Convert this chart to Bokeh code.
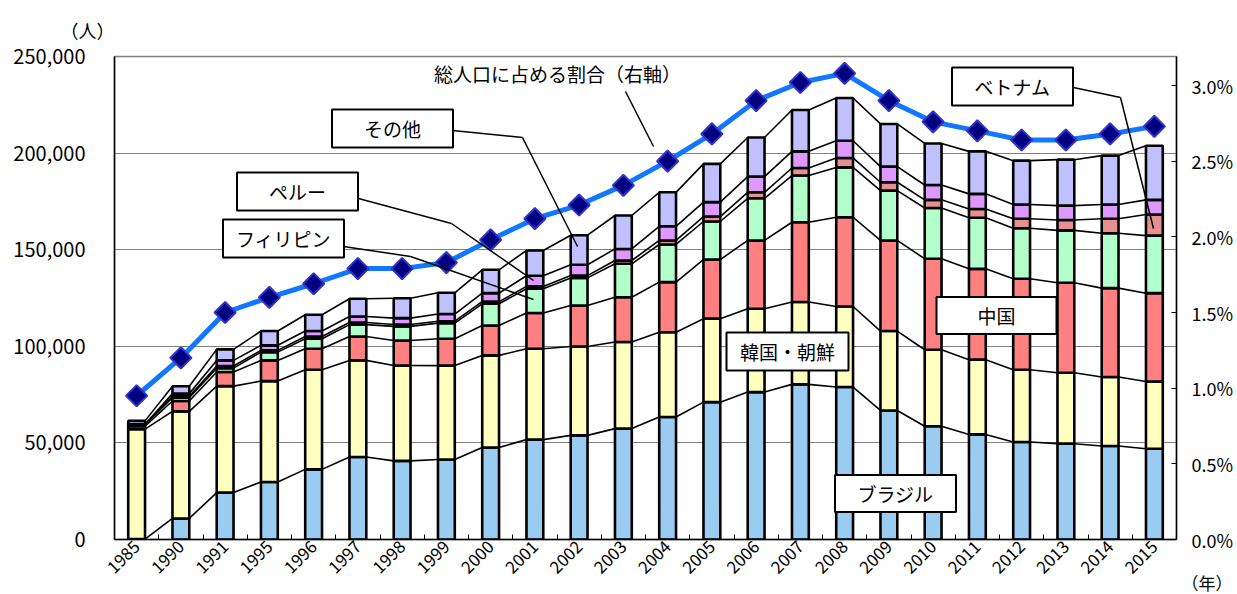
import math
from bokeh.plotting import figure
from bokeh.models import (ColumnDataSource, Range1d, LinearAxis, FixedTicker,
                          NumeralTickFormatter, Label, BoxAnnotation, Arrow, Title)
from bokeh.embed import file_html
from bokeh.resources import INLINE

# ---------------- data ----------------
years = ["1985", "1990", "1991", "1995", "1996", "1997", "1998", "1999", "2000",
         "2001", "2002", "2003", "2004", "2005", "2006", "2007", "2008", "2009",
         "2010", "2011", "2012", "2013", "2014", "2015"]
brazil = [200, 10900, 24300, 29800, 36300, 42700, 40700, 41400, 47600, 51700, 53900, 57400,
          63400, 71100, 76300, 80300, 78900, 66800, 58600, 54400, 50500, 49600, 48400, 47000]
korea = [56900, 55400, 55100, 52200, 51600, 50000, 49400, 48600, 47700, 47000, 46000, 44800,
         43900, 43200, 43100, 42600, 41700, 41100, 39600, 38700, 37400, 36700, 35700, 34800]
china = [1600, 5400, 7300, 10700, 10800, 12400, 12900, 13900, 15500, 18500, 21200, 23200,
         25900, 30600, 35400, 41300, 46200, 46900, 47100, 47000, 47100, 46600, 46000, 45700]
philippines = [700, 1700, 2000, 4300, 5200, 6100, 7300, 8100, 11200, 12600, 14300, 17300,
               19500, 19700, 21800, 24200, 25800, 25800, 26300, 26400, 26100, 27100, 28400, 29800]
vietnam = [200, 700, 1100, 900, 1200, 1100, 1000, 1000, 1100, 1200, 1200, 1700,
           2100, 2500, 3100, 3900, 4900, 4300, 4200, 4600, 4900, 5400, 7500, 10900]
peru = [0, 1400, 2900, 2600, 2800, 3100, 3300, 3700, 4400, 5500, 5600, 6000,
        7300, 7500, 8100, 8600, 8900, 8100, 7700, 7800, 7400, 7400, 7400, 7600]
other = [1800, 3800, 5700, 7400, 8400, 9200, 10300, 11000, 12100, 13100, 15300, 17300,
         17600, 19800, 20300, 21400, 22100, 22100, 21500, 22000, 22700, 23800, 25300, 28000]
share_pct = [0.95, 1.20, 1.50, 1.60, 1.69, 1.79, 1.79, 1.83, 1.98, 2.12, 2.21, 2.34,
             2.50, 2.68, 2.90, 3.02, 3.08, 2.90, 2.76, 2.70, 2.64, 2.64, 2.68, 2.73]
left_ticks = [0, 50000, 100000, 150000, 200000, 250000]
right_ticks = [0.0, 0.5, 1.0, 1.5, 2.0, 2.5, 3.0]
right_tick_labels = ["0.0%", "0.5%", "1.0%", "1.5%", "2.0%", "2.5%", "3.0%"]

series_names = ["brazil", "korea", "china", "philippines", "vietnam", "peru", "other"]
series_values = [brazil, korea, china, philippines, vietnam, peru, other]
series_colors = ["#99CCF0", "#FFFFC0", "#FF8080", "#B3FFCC", "#E69090", "#DD99FF", "#C0C0FF"]

FONT = "Noto Sans CJK JP"
xs = list(range(len(years)))
BAR_W = 0.38

src = ColumnDataSource(dict(x=xs, share=share_pct,
                            **{n: v for n, v in zip(series_names, series_values)}))

# ---------------- figure ----------------
p = figure(width=1237, height=594, output_backend="svg", toolbar_location=None,
           x_range=Range1d(-0.5, len(years) - 0.5), y_range=Range1d(0, 250000),
           min_border_left=114, min_border_right=61, min_border_top=56, min_border_bottom=55)
p.extra_y_ranges = {"pct": Range1d(0, 483 / 151.33)}

p.title.text = "（人）"
p.title.align = "left"
p.title.offset = -54
p.title.standoff = 27
p.title.text_font = FONT
p.title.text_font_size = "18px"
p.title.text_font_style = "normal"
p.title.text_color = "black"

year_title = Title(text="（年）", align="right", vertical_align="middle", offset=-56,
                   standoff=-28, text_font=FONT, text_font_size="17px",
                   text_font_style="normal", text_color="black")
p.add_layout(year_title, "below")

p.outline_line_color = "#808080"
p.outline_line_width = 1.5
p.xgrid.visible = False
p.ygrid.ticker = FixedTicker(ticks=left_ticks)
p.ygrid.grid_line_color = "#808080"
p.ygrid.grid_line_width = 1.2

# left axis
ya = p.yaxis[0]
ya.ticker = FixedTicker(ticks=left_ticks)
ya.formatter = NumeralTickFormatter(format="0,0")
ya.major_label_text_font = FONT
ya.major_label_text_font_size = "20px"
ya.major_label_text_color = "black"
ya.major_label_standoff = 29
ya.major_tick_in = 0
ya.major_tick_out = 0
ya.minor_tick_line_color = None
ya.axis_line_color = "black"
ya.axis_line_width = 1.5

# right axis
ra = LinearAxis(y_range_name="pct", ticker=FixedTicker(ticks=right_ticks),
                major_label_overrides={t: l for t, l in zip(right_ticks, right_tick_labels)})
ra.major_label_text_font = FONT
ra.major_label_text_font_size = "18px"
ra.major_label_text_color = "black"
ra.major_label_standoff = 15
ra.major_tick_in = 5
ra.major_tick_out = 0
ra.minor_tick_line_color = None
ra.axis_line_color = "black"
ra.axis_line_width = 1.5
p.add_layout(ra, "right")

# bottom axis
xa = p.xaxis[0]
xa.ticker = FixedTicker(ticks=xs, minor_ticks=[i - 0.5 for i in range(len(years) + 1)])
xa.major_label_overrides = {i: y for i, y in enumerate(years)}
xa.major_label_orientation = math.pi / 4
xa.major_label_text_font = FONT
xa.major_label_text_font_size = "17px"
xa.major_label_text_color = "black"
xa.major_label_standoff = 4
xa.major_tick_in = 0
xa.major_tick_out = 0
xa.minor_tick_in = 5
xa.minor_tick_out = 0
xa.minor_tick_line_color = "black"
xa.axis_line_color = "black"
xa.axis_line_width = 1.5

# ---------------- series lines between bars ----------------
cums = []
running = [0] * len(years)
for vals in series_values:
    running = [a + b for a, b in zip(running, vals)]
    cums.append(list(running))
sx0, sy0, sx1, sy1 = [], [], [], []
for cum in cums:
    for i in range(len(years) - 1):
        sx0.append(i + BAR_W / 2)
        sy0.append(cum[i])
        sx1.append(i + 1 - BAR_W / 2)
        sy1.append(cum[i + 1])
p.segment(x0=sx0, y0=sy0, x1=sx1, y1=sy1, line_color="black", line_width=1.6)

# ---------------- stacked bars ----------------
p.vbar_stack(series_names, x="x", width=BAR_W, source=src, color=series_colors,
             line_color="black", line_width=2.6)

# ---------------- share line ----------------
p.line(x="x", y="share", source=src, y_range_name="pct", line_color="#1177FF", line_width=5)
p.scatter(x="x", y="share", source=src, y_range_name="pct", marker="square",
          angle=math.pi / 4, size=15, fill_color="#000080", line_color="#3333CC", line_width=2)

# ---------------- annotations (positions in image pixels) ----------------
def dx(px):
    return -0.5 + (px - 114) / 1062 * len(years)


def dy(py):
    return (539 - py) / 483 * 250000


def leader(points):
    for (x0, y0), (x1, y1) in zip(points[:-1], points[1:]):
        p.add_layout(Arrow(end=None, x_start=dx(x0), y_start=dy(y0), x_end=dx(x1), y_end=dy(y1),
                           line_color="black", line_width=1.5))


leader([(452, 130), (522, 137), (577, 246)])
leader([(358, 198), (451, 223), (533, 280)])
leader([(343, 246), (410, 256), (533, 299)])
leader([(625, 91), (653, 146)])
leader([(1073, 87), (1120, 97), (1153, 228)])

callouts = [
    ("その他", 392, 128, 121, 38),
    ("ペルー", 297, 191, 121, 38),
    ("フィリピン", 283, 238, 121, 38),
    ("ベトナム", 1012, 86, 121, 38),
    ("韓国・朝鮮", 787, 351, 122, 38),
    ("中国", 996, 315, 120, 37),
    ("ブラジル", 895, 493, 121, 37),
]
for text, cx, cy, w, h in callouts:
    p.add_layout(BoxAnnotation(left=dx(cx - w / 2), right=dx(cx + w / 2),
                               bottom=dy(cy + h / 2), top=dy(cy - h / 2),
                               fill_color="white", fill_alpha=1.0,
                               line_color="black", line_width=2, line_alpha=1.0))
    p.add_layout(Label(x=dx(cx), y=dy(cy), text=text, text_align="center",
                       text_baseline="middle", text_font=FONT, text_font_size="19px",
                       text_color="black"))

p.add_layout(Label(x=dx(557), y=dy(73), text="総人口に占める割合（右軸）", text_align="center",
                   text_baseline="middle", text_font=FONT, text_font_size="19px",
                   text_color="black"))

open("out.html", "w").write(file_html(p, INLINE))
